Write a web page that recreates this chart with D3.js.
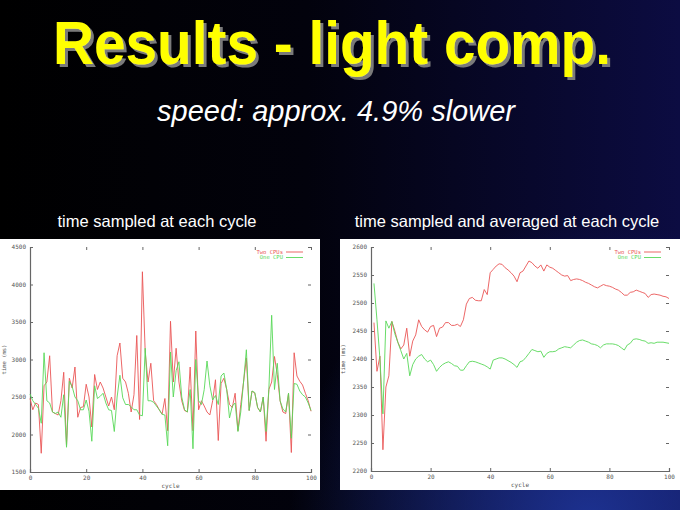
<!DOCTYPE html>
<html><head><meta charset="utf-8">
<script src="https://cdn.jsdelivr.net/npm/d3@7"></script>
<style>html,body{margin:0;padding:0;background:#000;overflow:hidden}svg{display:block}</style>
</head><body>
<svg id="c" width="680" height="510"></svg>
<script>
// ---------- data ----------
const slideTitle = "Results - light comp.";
const slideSubtitle = "speed: approx. 4.9% slower";
const leftTitle = "time sampled at each cycle";
const rightTitle = "time sampled and averaged at each cycle";
const seriesNames = ["Two CPUs", "One CPU"];
const xLabel = "cycle";
const yLabel = "time (ms)";

const rawCycles = d3.range(0, 101);
const rawTwoCPUs = [2480,2330,2420,2400,1750,2650,2700,3050,2300,2280,
  2260,2450,2830,1850,2750,2620,2900,2230,2360,2370,
  2670,2500,2100,2800,2600,2700,2620,2500,2380,2500,
  2330,3050,3220,2750,2700,2550,2300,2530,3320,2200,
  4170,3100,2700,2950,2450,2400,2330,2270,2480,2050,
  3510,2700,3150,2700,2450,2320,2300,2900,2050,3380,
  2330,2450,2380,2300,2260,2450,2730,1920,2680,2750,
  2600,2400,2360,2550,2050,2400,2700,3020,2320,2580,
  2550,2360,2300,2500,1910,2600,2700,3040,2800,2450,
  2300,2280,2550,1760,3090,2780,2710,2660,2550,2450,2310];
const rawOneCPU = [2540,2450,2400,2350,2150,3090,2450,2420,2300,2280,
  2300,2230,2530,1830,2710,2640,2500,2450,2330,2330,
  2460,2310,1910,2650,2480,2510,2550,2420,2330,2320,
  2040,2500,2790,2490,2400,2400,2370,2330,2330,2260,
  2250,3150,2450,2450,2430,2380,2330,2270,2260,1850,
  3100,2500,2850,2970,2500,2330,2300,2600,1810,3000,
  2450,2400,2600,2980,2650,2460,2520,2400,2780,2820,
  2600,2220,2380,2420,2040,2300,2700,3130,2320,2580,
  2560,2360,2300,2500,2040,2600,3590,2600,2950,2450,
  2340,2300,2550,1950,2680,2670,2580,2530,2500,2420,2320];

const avgCycles = d3.range(1, 101);
const avgTwoCPUs = [2465,2378,2405,2238,2350,2370,2467,2450,2430,2418,
  2425,2455,2405,2432,2443,2470,2458,2452,2448,2458,
  2460,2440,2455,2457,2465,2465,2460,2460,2462,2458,
  2470,2498,2508,2510,2505,2504,2504,2524,2515,2554,
  2560,2566,2570,2569,2563,2559,2554,2548,2538,2554,
  2557,2566,2575,2572,2566,2562,2568,2557,2568,2564,
  2562,2558,2554,2550,2548,2549,2540,2542,2543,2542,
  2540,2537,2535,2532,2529,2527,2530,2533,2531,2530,
  2528,2525,2523,2519,2514,2514,2519,2520,2523,2521,
  2519,2517,2510,2515,2516,2515,2514,2512,2511,2508];
const avgOneCPU = [2535,2470,2400,2302,2468,2455,2467,2445,2430,2415,
  2400,2410,2370,2390,2400,2405,2408,2400,2395,2398,
  2390,2378,2385,2390,2393,2395,2392,2388,2387,2380,
  2380,2388,2395,2396,2395,2393,2391,2389,2386,2382,
  2398,2400,2402,2402,2400,2397,2394,2390,2385,2395,
  2397,2403,2410,2417,2415,2413,2414,2403,2410,2413,
  2413,2414,2418,2420,2422,2421,2420,2425,2430,2433,
  2434,2432,2430,2427,2426,2424,2420,2425,2427,2427,
  2427,2426,2424,2420,2416,2425,2428,2435,2436,2435,
  2433,2432,2428,2429,2428,2430,2430,2430,2429,2428];

const xTicks = [0, 20, 40, 60, 80, 100];
const rawYTicks = [1500, 2000, 2500, 3000, 3500, 4000, 4500];
const avgYTicks = [2200, 2250, 2300, 2350, 2400, 2450, 2500, 2550, 2600];

// ---------- styles ----------
const RED = "#ea5656", GREEN = "#58d858";
const svg = d3.select("#c");

// background
const defs = svg.append("defs");
const lg = defs.append("linearGradient").attr("id","bg").attr("x1","0").attr("y1","0").attr("x2","1").attr("y2","0");
lg.append("stop").attr("offset","0").attr("stop-color","#000000");
lg.append("stop").attr("offset","0.45").attr("stop-color","#02020c");
lg.append("stop").attr("offset","1").attr("stop-color","#0c0c42");
const rg = defs.append("radialGradient").attr("id","glow").attr("gradientUnits","userSpaceOnUse")
  .attr("cx",590).attr("cy",520).attr("r",300);
rg.append("stop").attr("offset","0").attr("stop-color","#2038a0").attr("stop-opacity",0.85);
rg.append("stop").attr("offset","1").attr("stop-color","#2038a0").attr("stop-opacity",0);
const sh = defs.append("filter").attr("id","shadow").attr("x","-5%").attr("y","-20%").attr("width","110%").attr("height","140%");
sh.append("feOffset").attr("in","SourceAlpha").attr("dx",3).attr("dy",3).attr("result","off");
sh.append("feFlood").attr("flood-color","#7a7a7a").attr("result","col");
sh.append("feComposite").attr("in","col").attr("in2","off").attr("operator","in").attr("result","shadow");
const mg = sh.append("feMerge");
mg.append("feMergeNode").attr("in","shadow");
mg.append("feMergeNode").attr("in","SourceGraphic");

svg.append("rect").attr("width",680).attr("height",510).attr("fill","url(#bg)");
svg.append("rect").attr("width",680).attr("height",510).attr("fill","url(#glow)");

// slide title with shadow
svg.append("text").attr("x",53).attr("y",64).attr("fill","#ffff00")
  .attr("font-family","'Liberation Sans', Arial, sans-serif")
  .attr("font-weight","bold").attr("font-size",62)
  .attr("textLength",558).attr("lengthAdjust","spacingAndGlyphs")
  .attr("filter","url(#shadow)").text(slideTitle);

svg.append("text").attr("x",336).attr("y",121).attr("text-anchor","middle")
  .attr("font-family","'Liberation Sans', Arial, sans-serif").attr("font-style","italic")
  .attr("font-size",29).attr("fill","#ffffff").text(slideSubtitle);

svg.append("text").attr("x",157).attr("y",227).attr("text-anchor","middle")
  .attr("font-family","'Liberation Sans', Arial, sans-serif").attr("font-size",16.5)
  .attr("fill","#ffffff").text(leftTitle);
svg.append("text").attr("x",507).attr("y",227).attr("text-anchor","middle")
  .attr("font-family","'Liberation Sans', Arial, sans-serif").attr("font-size",16.5)
  .attr("fill","#ffffff").text(rightTitle);

// ---------- chart builder ----------
function chart(o) {
  const g = svg.append("g");
  g.append("rect").attr("x",o.panel[0]).attr("y",o.panel[1]).attr("width",o.panel[2]).attr("height",o.panel[3]).attr("fill","#ffffff");
  const x = d3.scaleLinear().domain([0,100]).range([o.left,o.right]);
  const y = d3.scaleLinear().domain(o.yDomain).range([o.bottom,o.top]);
  const font = "'DejaVu Sans Mono', monospace";

  const ya = g.append("g").attr("transform",`translate(${o.left},0)`)
    .call(d3.axisLeft(y).tickValues(o.yTicks).tickSize(-3).tickPadding(4).tickFormat(d3.format("d")));
  ya.select(".domain").attr("stroke","#666").attr("stroke-width",1.2);
  ya.selectAll(".tick line").attr("stroke","#666");
  ya.selectAll("text").attr("font-family",font).attr("font-size",6).attr("fill","#555");
  const yr = g.append("g").attr("transform",`translate(${o.right},0)`)
    .call(d3.axisRight(y).tickValues(o.yTicks).tickSize(-3).tickFormat(""));
  yr.select(".domain").remove();
  yr.selectAll(".tick line").attr("stroke","#666");
  const xa = g.append("g").attr("transform",`translate(0,${o.bottom})`)
    .call(d3.axisBottom(x).tickValues(xTicks).tickSize(-3).tickPadding(4).tickFormat(d3.format("d")));
  xa.select(".domain").attr("stroke","#666").attr("stroke-width",1.2);
  xa.selectAll(".tick line").attr("stroke","#666");
  xa.selectAll("text").attr("font-family",font).attr("font-size",6).attr("fill","#555");
  const xt = g.append("g").attr("transform",`translate(0,${o.top})`)
    .call(d3.axisTop(x).tickValues(xTicks).tickSize(-3).tickFormat(""));
  xt.select(".domain").remove();
  xt.selectAll(".tick line").attr("stroke","#666");

  g.append("text").attr("x",(o.left+o.right)/2).attr("y",o.bottom+16).attr("text-anchor","middle")
    .attr("font-family",font).attr("font-size",6).attr("fill","#555").text(xLabel);
  g.append("text").attr("transform",`translate(${o.yLabelX},${(o.top+o.bottom)/2}) rotate(-90)`)
    .attr("text-anchor","middle").attr("font-family",font).attr("font-size",5.5).attr("fill","#555").text(yLabel);

  const line = d3.line().x(d=>x(d[0])).y(d=>y(d[1]));
  o.series.forEach((s,i) => {
    g.append("path").datum(o.xs.map((c,k)=>[c,s.values[k]]))
      .attr("fill","none").attr("stroke",s.color).attr("stroke-width",0.9)
      .attr("stroke-linejoin","round").attr("d",line);
    const ly = o.top + 5 + i*5.5;
    g.append("text").attr("x",o.legendX).attr("y",ly).attr("dy","0.35em").attr("text-anchor","end")
      .attr("font-family",font).attr("font-size",5.5).attr("fill",s.color).text(s.name);
    g.append("line").attr("x1",o.legendX+3).attr("x2",o.legendX+20).attr("y1",ly).attr("y2",ly)
      .attr("stroke",s.color).attr("stroke-width",0.9);
  });
}

chart({panel:[0,239,320,251], left:30, right:311, top:247, bottom:472,
  yDomain:[1500,4500], yTicks:rawYTicks, yLabelX:6, legendX:283, xs:rawCycles,
  series:[{name:seriesNames[0],values:rawTwoCPUs,color:RED},{name:seriesNames[1],values:rawOneCPU,color:GREEN}]});
chart({panel:[340,239,340,251], left:371, right:669, top:247, bottom:471,
  yDomain:[2200,2600], yTicks:avgYTicks, yLabelX:345, legendX:641, xs:avgCycles,
  series:[{name:seriesNames[0],values:avgTwoCPUs,color:RED},{name:seriesNames[1],values:avgOneCPU,color:GREEN}]});
</script>
</body></html>
